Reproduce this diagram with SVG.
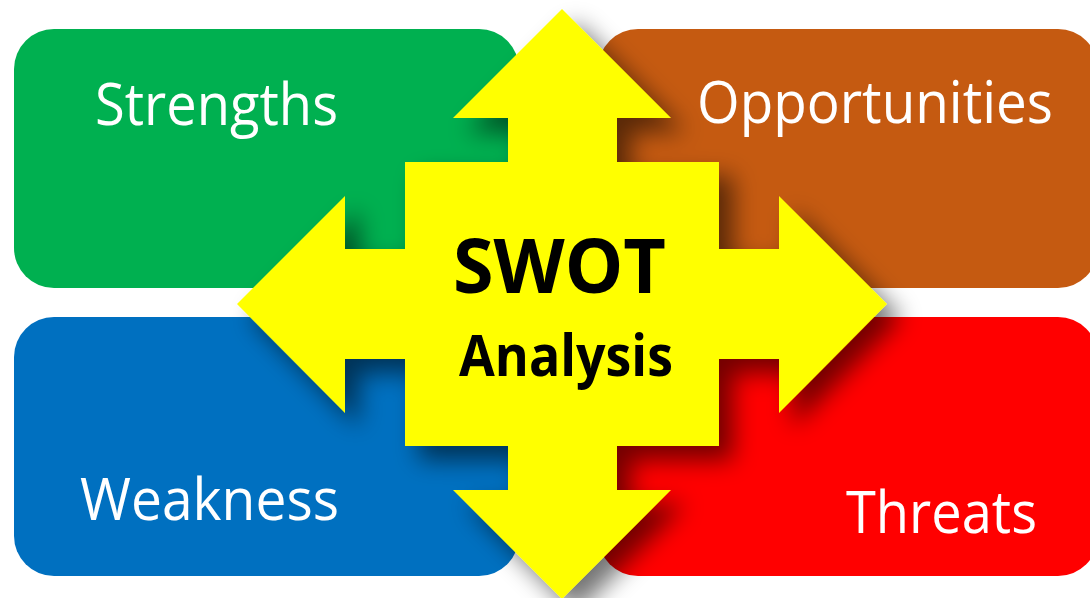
<svg xmlns="http://www.w3.org/2000/svg" width="1090" height="598" viewBox="0 0 1090 598">
  <style>
    .box { stroke: none; }
    .label { font-family: "Open Sans", "Liberation Sans", sans-serif; font-size: 58px; fill: #ffffff; }
    .title { font-family: "Open Sans", "Liberation Sans", sans-serif; font-weight: bold; fill: #000000; }
  </style>
  <defs>
    <!-- soft drop shadow cast by the central four-way arrow -->
    <filter id="arrowShadow" x="-25%" y="-25%" width="150%" height="150%">
      <feGaussianBlur in="SourceAlpha" stdDeviation="12"/>
      <feOffset dx="14" dy="14" result="off"/>
      <feComponentTransfer>
        <feFuncA type="linear" slope="0.55"/>
      </feComponentTransfer>
      <feMerge>
        <feMergeNode/>
        <feMergeNode in="SourceGraphic"/>
      </feMerge>
    </filter>
  </defs>

  <rect width="1090" height="598" fill="#ffffff"/>

  <!-- quadrant cards -->
  <g id="strengths">
    <rect class="box" x="14" y="29" width="505" height="259" rx="40" fill="#00B050"/>
    <text class="label" x="95" y="125" textLength="243" lengthAdjust="spacingAndGlyphs">Strengths</text>
  </g>
  <g id="opportunities">
    <rect class="box" x="598" y="29" width="500" height="259" rx="40" fill="#C55A11"/>
    <text class="label" x="697" y="123" textLength="356" lengthAdjust="spacingAndGlyphs">Opportunities</text>
  </g>
  <g id="weakness">
    <rect class="box" x="14" y="317" width="505" height="259" rx="40" fill="#0070C0"/>
    <text class="label" x="80" y="520" textLength="259" lengthAdjust="spacingAndGlyphs">Weakness</text>
  </g>
  <g id="threats">
    <rect class="box" x="598" y="317" width="500" height="259" rx="40" fill="#FF0000"/>
    <text class="label" x="846" y="533" textLength="191" lengthAdjust="spacingAndGlyphs">Threats</text>
  </g>

  <!-- central four-way arrow -->
  <g id="swot-analysis">
    <path filter="url(#arrowShadow)" fill="#FFFF00"
          d="M562,9 L671,118 L617,118 L617,162 L719,162 L719,249 L779,249 L779,196 L887,304
             L779,413 L779,359 L719,359 L719,446 L617,446 L617,490 L671,490 L562,599
             L453,490 L508,490 L508,446 L405,446 L405,359 L345,359 L345,413 L237,304
             L345,196 L345,249 L405,249 L405,162 L508,162 L508,118 L453,118 Z"/>
    <text class="title" x="453" y="293" font-size="76" textLength="213" lengthAdjust="spacingAndGlyphs">SWOT</text>
    <text class="title" x="459" y="376" font-size="57" textLength="214" lengthAdjust="spacingAndGlyphs">Analysis</text>
  </g>
</svg>
